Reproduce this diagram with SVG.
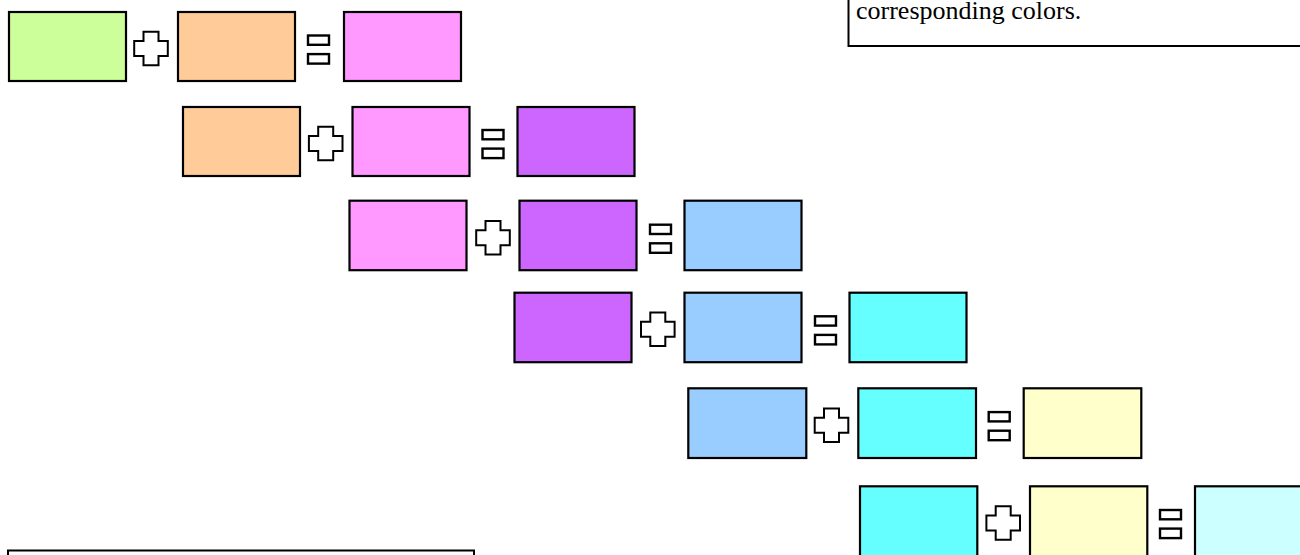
<svg xmlns="http://www.w3.org/2000/svg" xmlns:xlink="http://www.w3.org/1999/xlink" width="1300" height="555" viewBox="0 0 1300 555">
  <style>
    .box { stroke: #000; stroke-width: 2.2; }
    .op { fill: #fff; stroke: #000; }
    .note { fill: #fff; stroke: #000; stroke-width: 2; }
    .txt { font-family: "Liberation Serif", "Times New Roman", serif; font-size: 26px; fill: #000; }
    .g { fill: #CCFF99; } .o { fill: #FFCC99; } .p { fill: #FF99FF; } .v { fill: #CC66FF; }
    .b { fill: #99CCFF; } .c { fill: #66FFFF; } .y { fill: #FFFFCC; } .l { fill: #CCFFFF; }
  </style>
  <defs>
    <path id="plus" class="op" stroke-width="2" d="M-7.5,-16.8 H7.5 V-7.5 H16.8 V7.5 H7.5 V16.8 H-7.5 V7.5 H-16.8 V-7.5 H-7.5 Z"/>
    <g id="equals" class="op" stroke-width="2.4">
      <rect x="-10.5" y="-14.2" width="21" height="9.3"/>
      <rect x="-10.5" y="4.4" width="21" height="9.5"/>
    </g>
  </defs>

  <g id="note-top">
    <rect class="note" x="848.5" y="-120" width="500" height="166"/>
    <text class="txt" x="856" y="18.5">corresponding colors.</text>
  </g>
  <g id="note-bottom">
    <rect class="note" x="8" y="550.5" width="466" height="60"/>
  </g>

  <g id="row1">
    <rect id="r1a" class="box g" x="9" y="12" width="117" height="69"/>
    <use id="r1plus" xlink:href="#plus" x="151" y="48.5"/>
    <rect id="r1b" class="box o" x="178" y="12" width="117" height="69"/>
    <use id="r1eq" xlink:href="#equals" x="318.5" y="49.7"/>
    <rect id="r1c" class="box p" x="344" y="12" width="117" height="69"/>
  </g>
  <g id="row2">
    <rect id="r2a" class="box o" x="183" y="107" width="117" height="69"/>
    <use id="r2plus" xlink:href="#plus" x="325.7" y="143.5"/>
    <rect id="r2b" class="box p" x="352.5" y="107" width="117" height="69"/>
    <use id="r2eq" xlink:href="#equals" x="493" y="144.2"/>
    <rect id="r2c" class="box v" x="517.5" y="107" width="117" height="69"/>
  </g>
  <g id="row3">
    <rect id="r3a" class="box p" x="349.5" y="200.7" width="117" height="69.5"/>
    <use id="r3plus" xlink:href="#plus" x="493" y="237.8"/>
    <rect id="r3b" class="box v" x="519.5" y="200.7" width="117" height="69.5"/>
    <use id="r3eq" xlink:href="#equals" x="660.5" y="238.9"/>
    <rect id="r3c" class="box b" x="684.5" y="200.7" width="117" height="69.5"/>
  </g>
  <g id="row4">
    <rect id="r4a" class="box v" x="514.5" y="292.7" width="117" height="69.5"/>
    <use id="r4plus" xlink:href="#plus" x="657.8" y="329.2"/>
    <rect id="r4b" class="box b" x="684.5" y="292.7" width="117" height="69.5"/>
    <use id="r4eq" xlink:href="#equals" x="825.5" y="330.5"/>
    <rect id="r4c" class="box c" x="849.5" y="292.7" width="117" height="69.5"/>
  </g>
  <g id="row5">
    <rect id="r5a" class="box b" x="688.3" y="388.3" width="118" height="69.7"/>
    <use id="r5plus" xlink:href="#plus" x="831.5" y="425.2"/>
    <rect id="r5b" class="box c" x="858.3" y="388.3" width="117.7" height="69.7"/>
    <use id="r5eq" xlink:href="#equals" x="999.2" y="426.3"/>
    <rect id="r5c" class="box y" x="1023.7" y="388.3" width="117.6" height="69.7"/>
  </g>
  <g id="row6">
    <rect id="r6a" class="box c" x="860" y="486.3" width="117.3" height="70"/>
    <use id="r6plus" xlink:href="#plus" x="1003.2" y="523"/>
    <rect id="r6b" class="box y" x="1030" y="486.3" width="117.3" height="70"/>
    <use id="r6eq" xlink:href="#equals" x="1170.5" y="524.2"/>
    <rect id="r6c" class="box l" x="1195" y="486.3" width="117" height="70"/>
  </g>
</svg>
